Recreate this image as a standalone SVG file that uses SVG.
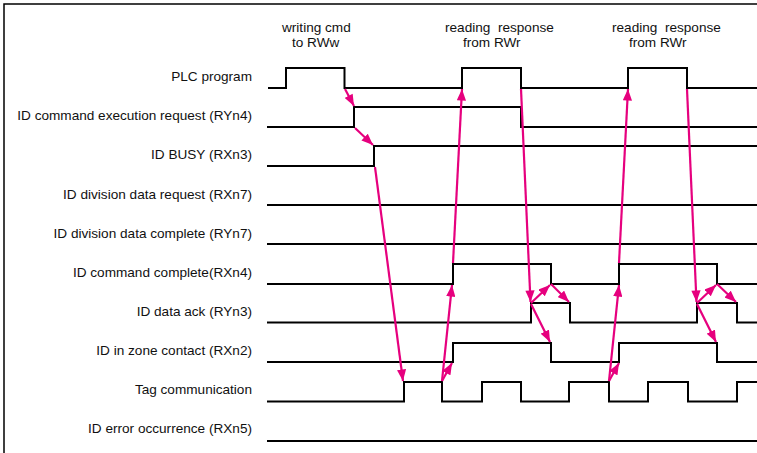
<svg xmlns="http://www.w3.org/2000/svg" width="757" height="453" viewBox="0 0 757 453">
<defs>
<style>
.lbl{font-family:"Liberation Sans",Arial,sans-serif;font-size:13.6px;fill:#111;text-anchor:end}
.hdr{font-family:"Liberation Sans",Arial,sans-serif;font-size:13.6px;fill:#111}
.sig{fill:none;stroke:#000;stroke-width:2;stroke-linejoin:miter}
.arr{fill:none;stroke:#E6007E;stroke-width:2.2;marker-end:url(#ah)}
.frame{fill:none;stroke:#000;stroke-width:1.5}
</style>
<marker id="ah" viewBox="0 0 10 8" refX="10" refY="4" markerWidth="5.5" markerHeight="4.2" orient="auto" markerUnits="strokeWidth">
<path d="M0,0 L10,4 L0,8 Z" fill="#E6007E"/>
</marker>
</defs>
<rect width="757" height="453" fill="#fff"/>
<path class="frame" d="M4,453 V4 H757"/>
<g id="headers">
<text class="hdr" x="282" y="32">writing cmd</text>
<text class="hdr" x="292" y="47">to RWw</text>
<text class="hdr" x="445" y="32" xml:space="preserve">reading  response</text>
<text class="hdr" x="463" y="47">from RWr</text>
<text class="hdr" x="612" y="32" xml:space="preserve">reading  response</text>
<text class="hdr" x="629" y="47">from RWr</text>
</g>
<g id="sig-plc">
<text class="lbl" x="252" y="81">PLC program</text>
<path class="sig" d="M268,88 H286 V68 H344.5 V88 H462 V68 H521 V88 H628 V68 H687 V88 H757"/>
</g>
<g id="sig-ryn4">
<text class="lbl" x="252" y="120">ID command execution request (RYn4)</text>
<path class="sig" d="M267,127 H354 V107 H521 V127 H757"/>
</g>
<g id="sig-rxn3">
<text class="lbl" x="252" y="159">ID BUSY (RXn3)</text>
<path class="sig" d="M267,166 H374 V146 H757"/>
</g>
<g id="sig-rxn7">
<text class="lbl" x="252" y="199">ID division data request (RXn7)</text>
<path class="sig" d="M267,205 H757"/>
</g>
<g id="sig-ryn7">
<text class="lbl" x="252" y="238">ID division data complete (RYn7)</text>
<path class="sig" d="M267,244 H757"/>
</g>
<g id="sig-rxn4">
<text class="lbl" x="252" y="277">ID command complete(RXn4)</text>
<path class="sig" d="M267,284 H453 V264 H551 V284 H619 V264 H717 V284 H757"/>
</g>
<g id="sig-ryn3">
<text class="lbl" x="252" y="316">ID data ack (RYn3)</text>
<path class="sig" d="M267,322.5 H531 V303 H570 V322.5 H697 V303 H737 V322.5 H757"/>
</g>
<g id="sig-rxn2">
<text class="lbl" x="252" y="355">ID in zone contact (RXn2)</text>
<path class="sig" d="M267,362 H453 V343 H551 V362 H619 V343 H717 V362 H757"/>
</g>
<g id="sig-tag">
<text class="lbl" x="252" y="394">Tag communication</text>
<path class="sig" d="M267,401.5 H404 V382 H442 V401.5 H482 V382 H521 V401.5 H569 V382 H609 V401.5 H648 V382 H688 V401.5 H737 V382 H757"/>
</g>
<g id="sig-rxn5">
<text class="lbl" x="252" y="433">ID error occurrence (RXn5)</text>
<path class="sig" d="M267,441 H757"/>
</g>
<g id="connectors">
<path class="arr" d="M345,89 L354,106"/>
<path class="arr" d="M355,128 L373,145"/>
<path class="arr" d="M375,167 L403,381"/>
<path class="arr" d="M442,381 L452,285"/>
<path class="arr" d="M442,381 L452,363"/>
<path class="arr" d="M453,263 L462,89"/>
<path class="arr" d="M521,89 L530.5,302"/>
<path class="arr" d="M531,303 L550,285"/>
<path class="arr" d="M551,284 L569,302"/>
<path class="arr" d="M531,304 L550,342"/>
<path class="arr" d="M609,381 L619,285"/>
<path class="arr" d="M609,381 L619,363"/>
<path class="arr" d="M619,263 L628,89"/>
<path class="arr" d="M687,89 L696.5,302"/>
<path class="arr" d="M697,303 L716,285"/>
<path class="arr" d="M717,284 L736,302"/>
<path class="arr" d="M697,304 L716,342"/>
</g>
</svg>
